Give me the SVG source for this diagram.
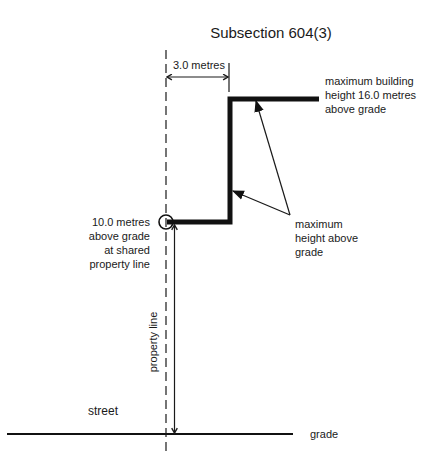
<svg xmlns="http://www.w3.org/2000/svg" width="443" height="458" viewBox="0 0 443 458">
<style>
text{font-family:"Liberation Sans",Arial,sans-serif;fill:#1a1a1a}
.lbl{font-size:11px}
.thin{stroke:#1a1a1a;stroke-width:1.2;fill:none}
.bld{stroke:#111;stroke-width:5;fill:none;stroke-linejoin:miter}
</style>
<defs>
<marker id="vee" viewBox="0 0 10 10" refX="9" refY="5" markerWidth="7" markerHeight="7" orient="auto-start-reverse" markerUnits="userSpaceOnUse">
<path d="M2,1 L9,5 L2,9" fill="none" stroke="#1a1a1a" stroke-width="2"/>
</marker>
<marker id="tri" viewBox="0 0 10 10" refX="9" refY="5" markerWidth="12" markerHeight="12" orient="auto" markerUnits="userSpaceOnUse">
<path d="M0,1 L10,5 L0,9 Z" fill="#111"/>
</marker>
</defs>
<rect width="443" height="458" fill="#fff"/>
<text x="271" y="38" font-size="15" text-anchor="middle">Subsection 604(3)</text>
<g id="grade">
<line x1="7" y1="434" x2="293" y2="434" stroke="#111" stroke-width="2"/>
<text class="lbl" x="310" y="438" font-size="12">grade</text>
</g>
<g id="street"><text x="88" y="415" font-size="12">street</text></g>
<g id="property-line">
<line x1="166" y1="50" x2="166" y2="452" stroke="#1a1a1a" stroke-width="1.2" stroke-dasharray="9,5"/>
<text class="lbl" font-size="10" transform="translate(157,342) rotate(-90)" text-anchor="middle">property line</text>
</g>
<g id="building">
<polyline class="bld" points="167,222 230,222 230,99 319,99"/>
<circle cx="166" cy="222" r="7" fill="none" stroke="#111" stroke-width="1.6"/>
</g>
<g id="connectors">
<line x1="229" y1="63" x2="229" y2="92" class="thin"/>
<line x1="167" y1="77" x2="228" y2="77" class="thin" marker-start="url(#vee)" marker-end="url(#vee)"/>
<line x1="174.5" y1="225" x2="174.5" y2="433" class="thin" marker-start="url(#vee)" marker-end="url(#vee)"/>
<line x1="290" y1="215" x2="233" y2="191" class="thin" marker-end="url(#tri)"/>
<line x1="290" y1="215" x2="256" y2="101" class="thin" marker-end="url(#tri)"/>
</g>
<g id="dim-label"><text class="lbl" x="173" y="69">3.0 metres</text></g>
<g id="max-building">
<text class="lbl" x="325" y="85">maximum building</text>
<text class="lbl" x="325" y="99">height 16.0 metres</text>
<text class="lbl" x="325" y="113">above grade</text>
</g>
<g id="max-height">
<text class="lbl" x="295" y="228">maximum</text>
<text class="lbl" x="295" y="242">height above</text>
<text class="lbl" x="295" y="256">grade</text>
</g>
<g id="shared-label" text-anchor="end">
<text class="lbl" x="150" y="226">10.0 metres</text>
<text class="lbl" x="150" y="240">above grade</text>
<text class="lbl" x="150" y="254">at shared</text>
<text class="lbl" x="150" y="268">property line</text>
</g>
</svg>
